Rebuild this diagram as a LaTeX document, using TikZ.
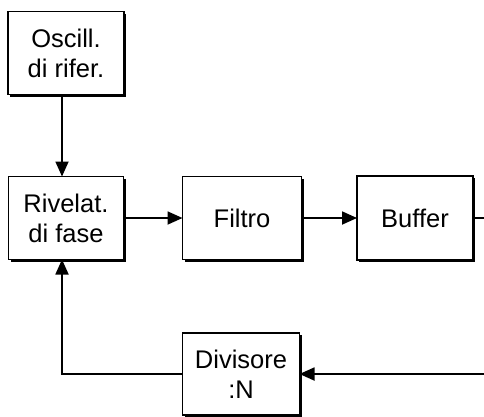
\documentclass[tikz,border=0pt]{standalone}
\usepackage{fontspec}
\setmainfont{Liberation Sans}
\usetikzlibrary{arrows.meta,shadows}

\begin{document}
\begin{tikzpicture}[x=1pt,y=-1pt,
  blocco/.style={draw, line width=1.6pt, fill=white, align=center,
    inner sep=0pt, outer sep=0pt,
    font=\fontsize{25.5}{30}\selectfont,
    drop shadow={shadow xshift=2.2pt, shadow yshift=-2.2pt, fill=black, opacity=1}},
  freccia/.style={line width=1.8pt, -{Triangle[length=15pt,width=13pt]}},
  linea/.style={line width=1.8pt}]
\useasboundingbox (0,0) rectangle (484,416);

\node[blocco, minimum width=116pt, minimum height=83pt] (osc) at (66,53) {Oscill.\\di rifer.};
\node[blocco, minimum width=115pt, minimum height=83pt] (riv) at (66,218) {Rivelat.\\di fase};
\node[blocco, minimum width=119pt, minimum height=83pt] (fil) at (242,218) {Filtro};
\node[blocco, minimum width=116pt, minimum height=84pt] (buf) at (415,218) {Buffer};
\node[blocco, minimum width=117pt, minimum height=82pt] (div) at (241,374) {Divisore\\:N};

\coordinate (uscita) at (486,218);
\coordinate (ritorno) at (486,374);

\draw[freccia] ([xshift=-4pt]osc.south) -- ([xshift=-4pt]riv.north);
\draw[freccia] (riv.east) -- (fil.west);
\draw[freccia] (fil.east) -- (buf.west);
\draw[linea] (buf.east) -- (uscita);
\draw[freccia] (ritorno) -- (div.east);
\draw[freccia] (div.west) -| ([xshift=-4pt]riv.south);
\end{tikzpicture}
\end{document}
